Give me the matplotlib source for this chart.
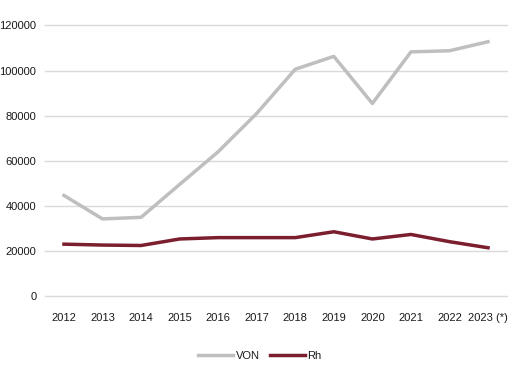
import matplotlib.pyplot as plt

years = ["2012", "2013", "2014", "2015", "2016", "2017", "2018", "2019", "2020", "2021", "2022", "2023 (*)"]
von = [44600, 34200, 34900, 49500, 64000, 81000, 100600, 106300, 85400, 108300, 108800, 112800]
rh = [23000, 22600, 22400, 25300, 25900, 25900, 25900, 28500, 25300, 27300, 24100, 21400]

plt.rcParams["font.family"] = ["Liberation Sans", "DejaVu Sans"]

fig = plt.figure(figsize=(5.23, 3.87), dpi=100)
ax = fig.add_axes([44.7 / 523, 1 - 296 / 387, (507.3 - 44.7) / 523, (296 - 25.5) / 387])

x = list(range(len(years)))
ax.plot(x, von, color="#BFBFBF", lw=2.5, label="VON", solid_joinstyle="round")
ax.plot(x, rh, color="#7B1E2E", lw=2.5, label="Rh", solid_joinstyle="round")

ax.set_xlim(-0.5, len(years) - 0.5)
ax.set_ylim(0, 120000)
ax.set_yticks(range(0, 120001, 20000))
ax.set_xticks(x)
ax.set_xticklabels(years)
ax.grid(axis="y", color="#D9D9D9", lw=1)
for gl in ax.get_ygridlines():
    gl.set_clip_on(False)
ax.set_axisbelow(True)
for s in ax.spines.values():
    s.set_visible(False)
ax.tick_params(length=0, labelsize=8, colors="#1A1A1A")
ax.tick_params(axis="x", pad=12)
ax.tick_params(axis="y", pad=6)

ax.legend(loc="center", bbox_to_anchor=(0.465, -0.22), ncol=2, frameon=False,
          fontsize=8, handlelength=3.2, handletextpad=0.2, columnspacing=0.9,
          labelcolor="#1A1A1A")

fig.savefig("out.png", dpi=100)
